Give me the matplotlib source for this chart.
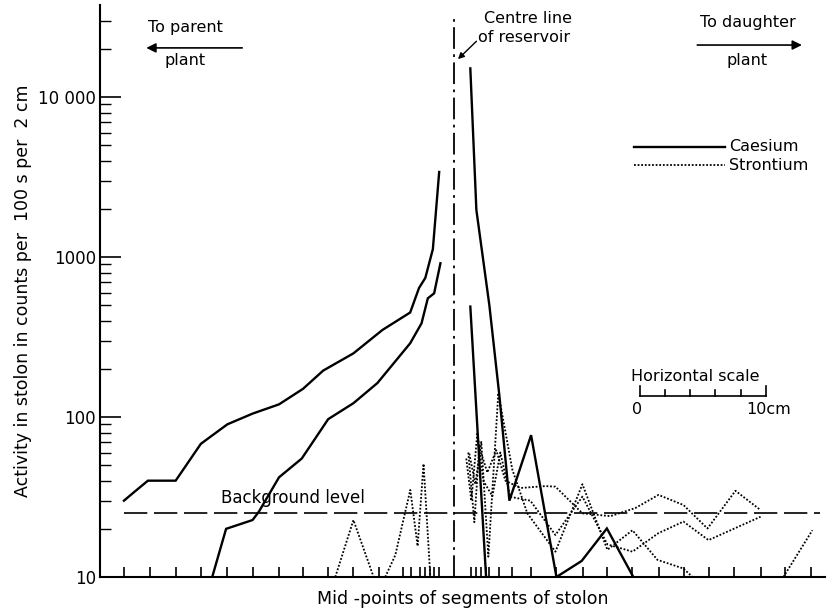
import matplotlib
matplotlib.use("Agg")
import matplotlib.pyplot as plt
import numpy as np
from matplotlib.ticker import FixedLocator, LogLocator, NullFormatter

plt.rcParams.update({"font.family": "DejaVu Sans", "font.size": 12})

# distances in cm from the centre line of the reservoir (negative = towards parent plant)
cs_left_hi_x = [-26.2, -25.5, -24.3, -22.1, -20.1, -18.0, -16.0, -13.9, -12.0, -10.4, -8.0, -5.7, -3.5, -2.8, -2.3, -1.7, -1.2]
cs_left_hi_y = [30, 33.4, 40, 40, 68, 90, 105, 120, 150, 195, 250, 350, 450, 640, 740, 1120, 3400]
cs_left_lo_x = [-19.2, -18.1, -16.0, -15.5, -13.9, -12.1, -10.0, -8.0, -6.1, -3.5, -2.6, -2.1, -1.6, -1.1]
cs_left_lo_y = [10, 20, 22.7, 25.6, 42, 55, 97, 122, 163, 289, 385, 552, 593, 914]
cs_right_hi_x = [1.27, 1.75, 2.78, 3.57, 4.37, 6.09, 8.1, 10.1, 12.1, 14.2]
cs_right_hi_y = [15100, 1970, 500, 137, 30, 77, 10, 12.6, 20.1, 10]
cs_right_lo_x = [1.27, 2.52]
cs_right_lo_y = [490, 10]

sr_left_a_x = [-9.44, -8.0, -6.4]
sr_left_a_y = [10, 22.7, 10]
sr_left_b_x = [-5.48, -4.68, -3.49, -2.91, -2.44, -1.9]
sr_left_b_y = [10, 13.7, 35, 15.6, 51, 10]
sr_r1_x = [1.11, 1.59, 1.98, 2.62, 3.33, 4.05, 5.24, 7.22, 8.02, 10.16, 12.38, 14.37, 16.19, 18.17, 20.08, 22.30, 24.29]
sr_r1_y = [60, 22, 65, 45, 62, 40, 36, 37, 36.7, 25, 24, 27, 32.6, 28.2, 20.1, 34.6, 26.2]
sr_r2_x = [0.95, 1.35, 1.83, 2.30, 3.02, 3.65, 4.44, 6.03, 8.02, 10.16, 12.14, 14.13, 16.19, 18.17, 20.16, 24.29]
sr_r2_y = [55, 30, 80, 40, 32, 60, 31.7, 30, 18.3, 31.8, 16, 14.4, 18.8, 22.2, 17, 23.8]
sr_r3_x = [1.19, 1.67, 2.14, 2.70, 3.49, 4.60, 5.79, 8.02, 10.16, 12.14, 14.13, 16.11, 18.17, 18.89]
sr_r3_y = [59, 38, 70, 13.4, 141, 47, 25, 14.4, 38, 14.8, 19.6, 12.8, 11.3, 10]
sr_r4_x = [26.1, 28.4]
sr_r4_y = [10, 19.6]

background = 25
segment_mids = [-26.2, -24.1, -22.1, -20.1, -18.0, -16.0, -13.9, -12.0, -10.0, -8.0, -5.95, -4.05,
                -3.4, -2.7, -2.3, -1.9, -1.6, -1.2,
                1.35, 1.75, 2.14, 2.54, 2.78, 3.57, 4.6, 6.1, 8.1, 10.2, 12.1, 14.1, 16.2, 18.2,
                20.2, 22.2, 24.3, 26.2, 28.3]
scale_marks = [0, 2, 4, 6, 8, 10]

fig = plt.figure(figsize=(8.29, 6.12), dpi=100)
ax = fig.add_axes([100 / 829, 35 / 612, 725 / 829, 572 / 612])
ax.set_yscale("log")
ax.set_xlim(-28.1, 29.4)
ax.set_ylim(10, 37600)

cs = dict(color="black", lw=1.7, solid_joinstyle="miter")
sr = dict(color="black", lw=1.3, ls=(0, (1, 1)))
for xs, ys in [(cs_left_hi_x, cs_left_hi_y), (cs_left_lo_x, cs_left_lo_y),
               (cs_right_hi_x, cs_right_hi_y), (cs_right_lo_x, cs_right_lo_y)]:
    ax.plot(xs, ys, **cs)
for xs, ys in [(sr_left_a_x, sr_left_a_y), (sr_left_b_x, sr_left_b_y), (sr_r1_x, sr_r1_y),
               (sr_r2_x, sr_r2_y), (sr_r3_x, sr_r3_y), (sr_r4_x, sr_r4_y)]:
    ax.plot(xs, ys, **sr)

ax.plot([-26.2, 29.0], [background, background], color="black", lw=1.2, ls=(0, (14, 4)))
ax.text(-18.5, 27.5, "Background level", fontsize=12, va="bottom")

# centre line of reservoir
ax.plot([0, 0], [10, 31000], color="black", lw=1.3, ls=(0, (12, 3, 1.5, 3)))

for s in ["top", "right"]:
    ax.spines[s].set_visible(False)
for s in ["left", "bottom"]:
    ax.spines[s].set_linewidth(1.5)

ax.xaxis.set_major_locator(FixedLocator(segment_mids))
ax.set_xticklabels([])
ax.tick_params(axis="x", direction="in", length=7, width=1.2)
ax.yaxis.set_major_locator(FixedLocator([10, 100, 1000, 10000]))
ax.set_yticklabels(["10", "100", "1000", "10 000"], fontsize=12)
ax.yaxis.set_minor_locator(LogLocator(base=10, subs=np.arange(2, 10)))
ax.yaxis.set_minor_formatter(NullFormatter())
ax.tick_params(axis="y", which="major", direction="in", length=15, width=1.2, pad=3)
ax.tick_params(axis="y", which="minor", direction="in", length=8, width=1.0)

ax.set_xlabel("Mid -points of segments of stolon", fontsize=12.5, labelpad=6)
ax.set_ylabel("Activity in stolon in counts per  100 s per  2 cm", fontsize=12.5, labelpad=4)

# annotations (axes fraction)
T = ax.transAxes
ax.text(0.118, 0.96, "To parent", transform=T, ha="center", va="center", fontsize=11.5)
ax.text(0.118, 0.903, "plant", transform=T, ha="center", va="center", fontsize=11.5)
ax.annotate("", xy=(0.06, 0.925), xytext=(0.2, 0.925), xycoords=T,
            arrowprops=dict(arrowstyle="-|>", color="black", lw=1.2, mutation_scale=14))

ax.text(0.53, 0.977, "Centre line", transform=T, ha="left", va="center", fontsize=11.5)
ax.text(0.522, 0.944, "of reservoir", transform=T, ha="left", va="center", fontsize=11.5)
ax.annotate("", xy=(0.491, 0.902), xytext=(0.522, 0.94), xycoords=T,
            arrowprops=dict(arrowstyle="-|>", color="black", lw=1.0, mutation_scale=9))

ax.text(0.893, 0.97, "To daughter", transform=T, ha="center", va="center", fontsize=11.5)
ax.text(0.893, 0.903, "plant", transform=T, ha="center", va="center", fontsize=11.5)
ax.annotate("", xy=(0.972, 0.93), xytext=(0.82, 0.93), xycoords=T,
            arrowprops=dict(arrowstyle="-|>", color="black", lw=1.2, mutation_scale=14))

# legend drawn by hand
ax.plot([0.736, 0.862], [0.751, 0.751], transform=T, **cs)
ax.plot([0.736, 0.862], [0.72, 0.72], transform=T, **sr)
ax.text(0.868, 0.753, "Caesium", transform=T, va="center", fontsize=11.5)
ax.text(0.868, 0.72, "Strontium", transform=T, va="center", fontsize=11.5)

# horizontal scale bar (10 cm)
ax.text(0.732, 0.35, "Horizontal scale", transform=T, ha="left", va="center", fontsize=11.5)
sx = 14.7
ax.plot([sx, sx + 10], [135, 135], color="black", lw=1.2)
for t in scale_marks:
    top = 156 if t in (0, 10) else 147
    ax.plot([sx + t, sx + t], [135, top], color="black", lw=1.2)
ax.text(sx - 0.2, 124, "0", ha="center", va="top", fontsize=11.5)
ax.text(sx + 10.2, 124, "10cm", ha="center", va="top", fontsize=11.5)

fig.savefig("out.png", dpi=100)
